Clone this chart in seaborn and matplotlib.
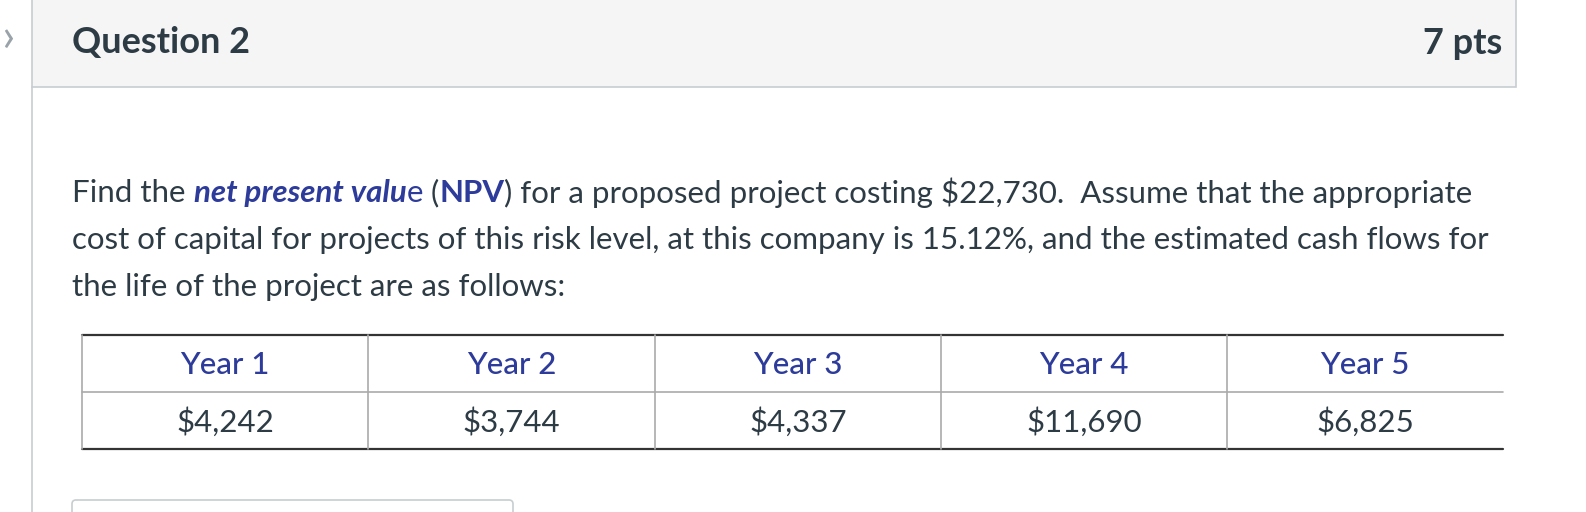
import matplotlib
matplotlib.use("Agg")
import matplotlib.pyplot as plt
from matplotlib.patches import Rectangle, FancyBboxPatch
import seaborn as sns

# table content
years = ["Year 1", "Year 2", "Year 3", "Year 4", "Year 5"]
cash_flows = ["$4,242", "$3,744", "$4,337", "$11,690", "$6,825"]
question_title = "Question 2"
points_label = "7 pts"

# paragraph split into styled runs (text, weight, style, colour)
blue = "#2d3b9b"
dark = "#2d3b45"
lines = [
    [("Find the ", "normal", "normal", dark),
     ("net present valu", "bold", "italic", blue),
     ("e", "normal", "normal", blue),
     (" (", "normal", "normal", dark),
     ("NPV", "bold", "normal", blue),
     (") for a proposed project costing $22,730.  Assume that the appropriate", "normal", "normal", dark)],
    [("cost of capital for projects of this risk level, at this company is 15.12%, and the estimated cash flows for", "normal", "normal", dark)],
    [("the life of the project are as follows:", "normal", "normal", dark)],
]

sns.set_theme(style="white")
plt.rcParams["font.family"] = ["Lato", "DejaVu Sans"]

W, H = 1586, 512
fig = plt.figure(figsize=(W / 100, H / 100), dpi=100)
ax = fig.add_axes([0, 0, 1, 1])
ax.set_xlim(0, W)
ax.set_ylim(H, 0)
ax.axis("off")

border = "#c7cdd1"
body_size = 22.5
# header panel
ax.add_patch(Rectangle((32, -2), 1484, 89, facecolor="#f5f5f5", edgecolor=border, lw=1.2))
ax.plot([32, 32], [87, H], color=border, lw=1.2)
ax.text(2, 38, "\u203a", fontsize=34, color="#9aa3a9", va="center")
ax.text(72, 43, question_title, fontsize=26, fontweight="bold", color=dark, va="center")
ax.text(1502, 43, points_label, fontsize=26, fontweight="bold", color=dark, va="center", ha="right")

# paragraph with mixed styles
fig.canvas.draw()
renderer = fig.canvas.get_renderer()
inv = ax.transData.inverted()
for i, runs in enumerate(lines):
    x = 72
    y = 193 + i * 47
    for txt, weight, style, col in runs:
        t = ax.text(x, y, txt, fontsize=body_size, fontweight=weight, fontstyle=style,
                    color=col, va="center", ha="left")
        bb = t.get_window_extent(renderer)
        x = inv.transform((bb.x1, bb.y0))[0]

# table
left, right = 82, 1503
col_edges = [82, 368, 655, 941, 1227, 1503]
top, mid, bottom = 335, 392, 449
ax.plot([left, right], [top, top], color="#333333", lw=1.6)
ax.plot([left, right], [mid, mid], color="#aaaaaa", lw=1.2)
ax.plot([left, right], [bottom, bottom], color="#333333", lw=1.6)
for xe in col_edges[:-1]:
    ax.plot([xe, xe], [top, bottom], color="#aaaaaa", lw=1.2)
for j in range(len(years)):
    cx = (col_edges[j] + col_edges[j + 1]) / 2
    ax.text(cx, 365, years[j], fontsize=body_size, fontweight="medium", color=blue, ha="center", va="center")
    ax.text(cx, 422, cash_flows[j], fontsize=body_size, color=dark, ha="center", va="center")

# answer box peeking at the bottom
ax.add_patch(FancyBboxPatch((72, 500), 441, 40, boxstyle="round,pad=0,rounding_size=4",
                            facecolor="white", edgecolor=border, lw=1.2))

fig.savefig("out.png", dpi=100)
